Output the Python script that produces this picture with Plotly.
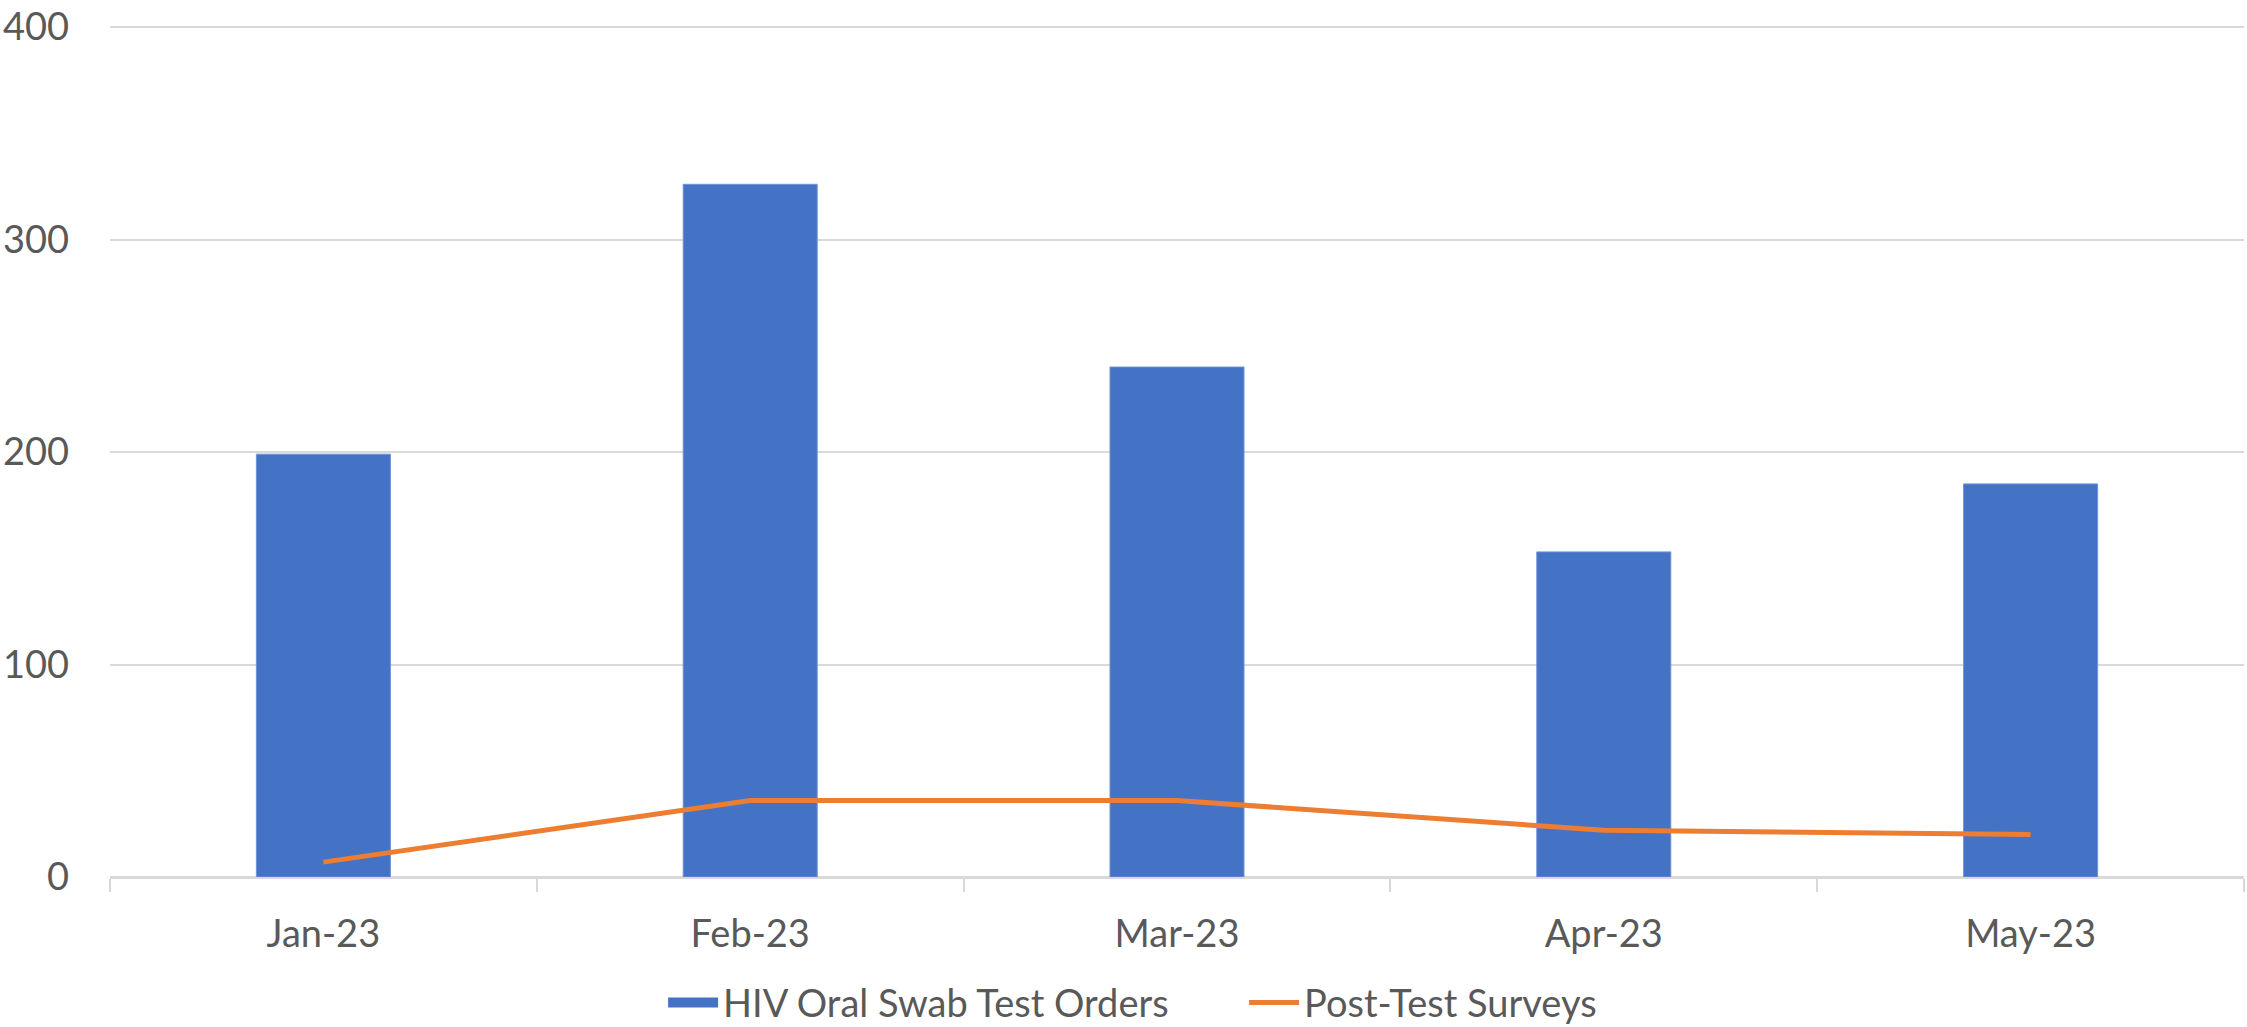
import plotly.graph_objects as go

months = ["Jan-23", "Feb-23", "Mar-23", "Apr-23", "May-23"]
test_orders = [199, 326, 240, 153, 185]
post_test_surveys = [7, 36, 36, 22, 20]
y_ticks = [0, 100, 200, 300, 400]

FONT = "Lato"
TXT = "#595959"
GRID = "#d9d9d9"
BLUE = "#4472C4"
ORANGE = "#ED7D31"

fig = go.Figure()
fig.add_trace(go.Bar(
    x=months, y=test_orders, name="HIV Oral Swab Test Orders",
    marker=dict(color=BLUE, line=dict(color="#6f93d6", width=1)),
    showlegend=False, legendgroup="orders",
))
# legend proxy so the legend swatch is a wide rectangle as in the original
fig.add_trace(go.Scatter(
    x=[None], y=[None], name="HIV Oral Swab Test Orders", mode="lines",
    line=dict(color=BLUE, width=24), legendgroup="orders", hoverinfo="skip",
))
fig.add_trace(go.Scatter(
    x=months, y=post_test_surveys, name="Post-Test Surveys",
    mode="lines", line=dict(color=ORANGE, width=5),
))

fig.update_layout(
    width=2247, height=1027,
    margin=dict(l=110, r=3, t=26, b=150),
    paper_bgcolor="white", plot_bgcolor="white",
    bargap=0.686,
    font=dict(family=FONT, size=38, color=TXT),
    showlegend=True,
    legend=dict(orientation="h", xref="container", yref="container",
                x=0.2951, xanchor="left", y=0.0235, yanchor="middle",
                font=dict(size=38, color=TXT), traceorder="normal",
                itemwidth=50, entrywidthmode="pixels", entrywidth=516),
)
fig.update_xaxes(
    type="category", showgrid=False, showline=True, linecolor=GRID, linewidth=2,
    ticks="outside", tickson="boundaries", ticklen=13, tickcolor=GRID, tickwidth=2,
    ticklabelstandoff=22, tickfont=dict(size=38, color=TXT), automargin=False,
)
fig.update_yaxes(
    range=[0, 400.5], tickvals=y_ticks, showgrid=True, gridcolor=GRID, gridwidth=2,
    zeroline=True, zerolinecolor=GRID, zerolinewidth=2, ticks="",
    ticklabelstandoff=40, tickfont=dict(size=38, color=TXT), automargin=False,
    ticklabeloverflow="allow",
)

fig.write_html("out.html", config={"displayModeBar": False},
               post_script="document.body.style.margin='0';")
